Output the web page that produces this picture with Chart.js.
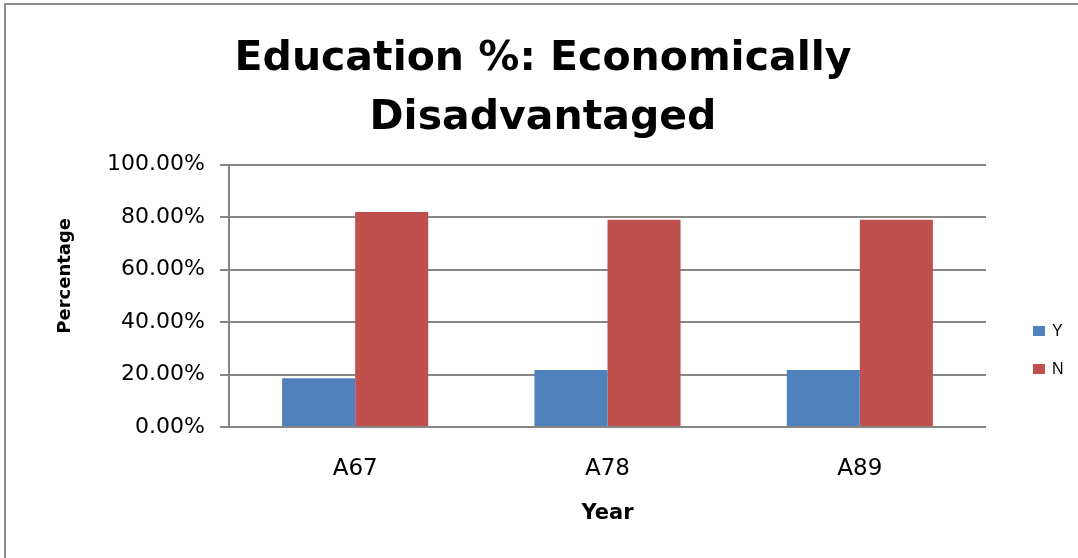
<!DOCTYPE html>
<html>
<head>
<meta charset="utf-8">
<script src="https://cdn.jsdelivr.net/npm/chart.js@4"></script>
<style>
  html, body { margin: 0; padding: 0; background: #fff; }
  #wrap { position: relative; width: 1078px; height: 558px; overflow: hidden; }
  #frame {
    position: absolute; left: 4px; top: 3px; right: -10px; bottom: -10px;
    border-left: 2px solid #8c8c8c; border-top: 2px solid #8c8c8c;
  }
  canvas { position: absolute; left: 0; top: 0; }
</style>
</head>
<body>
<div id="wrap">
  <div id="frame"></div>
  <canvas id="chart" width="1078" height="558"></canvas>
</div>
<script>
const categories = ["A67", "A78", "A89"];
const yesValues = [18.6, 21.7, 21.7];
const noValues = [82.0, 79.0, 79.0];
const titleLines = ["Education %: Economically", "Disadvantaged"];

const gridColor = "#868686";

// Excel-like legend on the right: its own layout box so the title
// still centres over the whole canvas
const sideLegend = {
  id: "sideLegend",
  beforeInit(chart) {
    const box = {
      position: "right",
      weight: 0,
      fullSize: false,
      options: { stackWeight: 1 },
      isHorizontal() { return false; },
      getPadding() { return { top: 0, left: 0, right: 0, bottom: 0 }; },
      update(maxWidth, maxHeight) {
        this.width = 92;
        this.height = maxHeight;
      },
      draw() {
        const ctx = chart.ctx;
        const x = this.left + 47;
        ctx.save();
        ctx.font = "16px 'Liberation Sans', Arial, sans-serif";
        ctx.textBaseline = "middle";
        chart.data.datasets.forEach((ds, i) => {
          const y = 331 + i * 38;
          ctx.fillStyle = ds.backgroundColor;
          ctx.fillRect(x, y - 5, 12, 10);
          ctx.fillStyle = "#000";
          ctx.fillText(ds.label, x + 19, y + 1);
        });
        ctx.restore();
      },
    };
    Chart.layouts.addBox(chart, box);
  },
  // Excel puts the y title a bit above the plot centre
  afterLayout(chart) {
    const y = chart.scales.y;
    if (y._titleNudged) return;
    const orig = y.drawTitle;
    y.drawTitle = function () {
      chart.ctx.save();
      chart.ctx.translate(0, -20);
      orig.apply(this, arguments);
      chart.ctx.restore();
    };
    y._titleNudged = true;
  },
};

new Chart(document.getElementById("chart"), {
  type: "bar",
  data: {
    labels: categories,
    datasets: [
      { label: "Y", data: yesValues, backgroundColor: "#4F81BD" },
      { label: "N", data: noValues, backgroundColor: "#C0504D" },
    ],
  },
  options: {
    responsive: false,
    animation: false,
    devicePixelRatio: 1,
    layout: { padding: { left: 8, right: 0, top: 0, bottom: 0 } },
    datasets: { bar: { barPercentage: 1, categoryPercentage: 0.579 } },
    plugins: {
      legend: { display: false },
      tooltip: { enabled: false },
      title: {
        display: true,
        text: titleLines,
        color: "#000",
        font: { family: "'DejaVu Sans', sans-serif", size: 41, weight: "bold", lineHeight: 1.46 },
        padding: { top: 29, bottom: 16 },
      },
    },
    scales: {
      x: {
        grid: { display: false, drawTicks: false },
        border: { display: false },
        ticks: {
          color: "#000",
          padding: 28,
          font: { family: "'DejaVu Sans', sans-serif", size: 23 },
        },
        title: {
          display: true,
          text: "Year",
          color: "#000",
          font: { family: "'DejaVu Sans', sans-serif", size: 21, weight: "bold" },
          padding: { top: 0, bottom: 32 },
        },
        afterFit(scale) { scale.height = 131; },
      },
      y: {
        min: 0,
        max: 100,
        ticks: {
          stepSize: 20,
          color: "#000",
          padding: 15,
          font: { family: "'DejaVu Sans', sans-serif", size: 22 },
          callback: (v) => v.toFixed(2) + "%",
        },
        grid: { color: gridColor, lineWidth: 2, tickLength: 9 },
        border: { display: true, color: gridColor, width: 2 },
        title: {
          display: true,
          text: "Percentage",
          color: "#000",
          font: { family: "'DejaVu Sans', sans-serif", size: 18, weight: "bold" },
          padding: { top: 47, bottom: 0 },
        },
        afterFit(scale) { scale.width = 221; },
      },
    },
  },
  plugins: [sideLegend],
});
</script>
</body>
</html>
